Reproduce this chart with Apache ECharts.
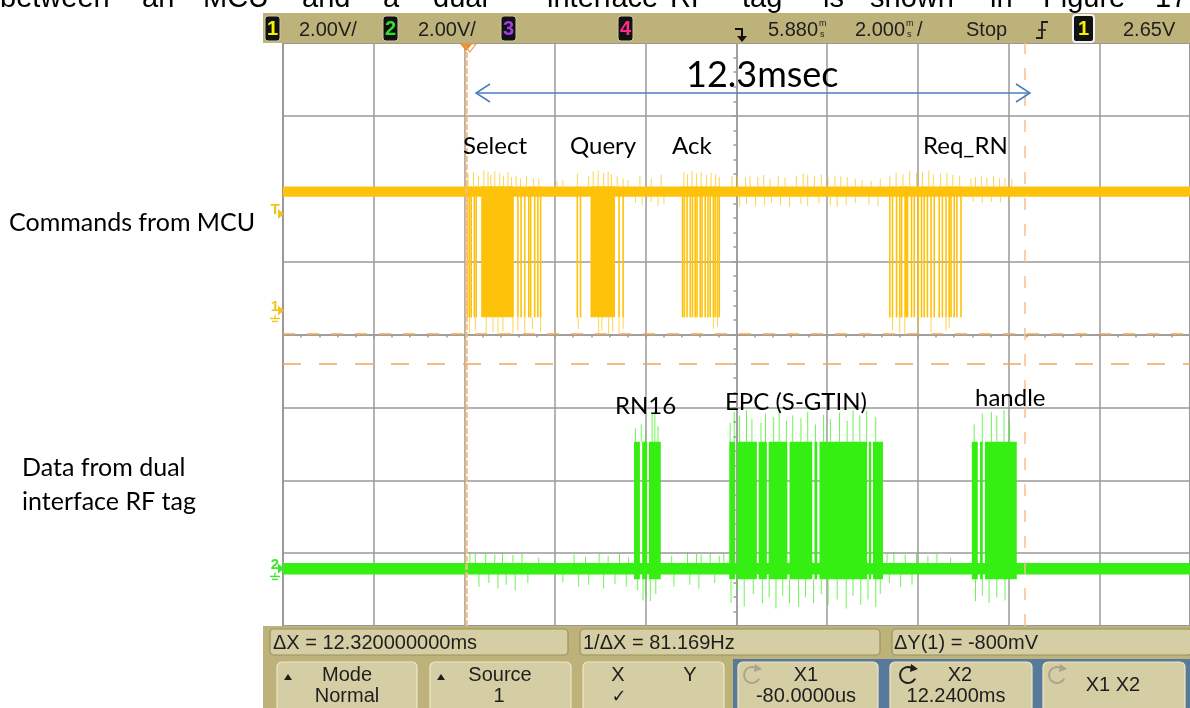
<!DOCTYPE html>
<html>
<head>
<meta charset="utf-8">
<script src="https://cdn.jsdelivr.net/npm/echarts@6/dist/echarts.min.js"></script>
<style>
html, body { margin: 0; padding: 0; background: #ffffff; }
#chart { width: 1190px; height: 708px; }
</style>
</head>
<body>
<div id="chart"></div>
<script>
// ---- Acquisition settings -------------------------------------------------
// time in ms relative to the trigger, amplitude in volts
const timeWindow = [-4.12, 15.88];         // 2.000 ms/div, delay 5.880 ms
const ch1Range = [-8.66, 7.34];            // 2.00 V/div, channel 1 offset
const ch2Range = [-1.58, 14.42];           // 2.00 V/div, channel 2 offset
const triggerLevel = 2.65;
const cursorX = [-0.08, 12.24];            // X1, X2
const cursorY = [-0.65, -1.45];            // Y1, Y2 on channel 1

// ---- Channel 1: commands from MCU ----------------------------------------
const ch1IdleBand = [3.12, 3.40];
const ch1LowLevel = -0.19;
const ch1Bursts = [[0.25, 0.97], [2.66, 3.20], [9.58, 9.67]];
const ch1Edges = [
  -0.05, -0.01, 0.03, 0.10, 0.14, 1.06, 1.13, 1.21, 1.30, 1.34, 1.43, 1.50, 1.56,
  2.37, 2.44, 3.29, 3.38,
  4.69, 4.73, 4.79, 4.86, 4.91, 4.97, 5.01, 5.08, 5.12, 5.19, 5.25, 5.30, 5.37, 5.41, 5.46, 5.50,
  9.26, 9.32, 9.41, 9.48, 9.52, 9.74, 9.80, 9.89, 9.96, 10.02, 10.09, 10.17, 10.24, 10.35,
  10.42, 10.50, 10.57, 10.61, 10.68, 10.74, 10.83
];
const ch1Undershoot = [
  [-0.01, -0.62], [0.12, -0.55], [0.36, -0.66], [0.51, -0.60], [0.62, -0.66], [0.73, -0.58],
  [0.95, -0.64], [1.06, -0.55], [1.21, -0.66], [1.38, -0.50], [1.56, -0.60],
  [2.39, -0.50], [2.84, -0.62], [2.91, -0.55], [3.06, -0.66], [3.15, -0.58], [3.29, -0.62], [3.38, -0.50],
  [5.37, -0.50], [5.46, -0.45],
  [9.32, -0.55], [9.48, -0.62], [9.59, -0.66], [9.89, -0.55], [10.17, -0.60], [10.50, -0.55], [10.57, -0.48]
];
const ch1Overshoot = [
  [-0.04, 3.75], [0.08, 3.80], [0.19, 3.70], [0.31, 3.84], [0.40, 3.80], [0.46, 3.72], [0.55, 3.82],
  [0.66, 3.78], [0.74, 3.70], [0.84, 3.80], [0.92, 3.66], [1.02, 3.70], [1.12, 3.62], [1.25, 3.68],
  [1.40, 3.62], [1.52, 3.60], [1.92, 3.55], [2.05, 3.58],
  [2.37, 3.76], [2.62, 3.70], [2.72, 3.82], [2.83, 3.84], [2.95, 3.78], [3.05, 3.80], [3.12, 3.74],
  [3.25, 3.70], [3.38, 3.62], [3.49, 3.58], [3.75, 3.70], [4.00, 3.62], [4.22, 3.72],
  [4.72, 3.80], [4.80, 3.74], [4.90, 3.82], [5.00, 3.76], [5.10, 3.80], [5.22, 3.72], [5.32, 3.78],
  [5.42, 3.74], [5.50, 3.66], [5.78, 3.68], [5.90, 3.72], [6.08, 3.65], [6.18, 3.70], [6.35, 3.66],
  [6.48, 3.72], [6.62, 3.60], [6.80, 3.68], [6.95, 3.64], [7.20, 3.70], [7.35, 3.75], [7.45, 3.72],
  [7.60, 3.70], [7.75, 3.74], [7.90, 3.66], [8.05, 3.70], [8.18, 3.68], [8.32, 3.66], [8.50, 3.62],
  [8.65, 3.58], [8.85, 3.56], [9.05, 3.62],
  [9.26, 3.70], [9.40, 3.78], [9.55, 3.74], [9.70, 3.82], [9.85, 3.78], [9.98, 3.80], [10.12, 3.84],
  [10.22, 3.74], [10.38, 3.76], [10.52, 3.78], [10.65, 3.72], [10.80, 3.70],
  [11.05, 3.62], [11.15, 3.66], [11.28, 3.70], [11.40, 3.64], [11.55, 3.68], [11.68, 3.62],
  [11.80, 3.64], [11.95, 3.60]
];
const ch1Dips = [
  [3.65, 2.95], [3.80, 2.90], [4.00, 2.98], [4.15, 2.88], [4.28, 2.92],
  [5.95, 2.85], [6.10, 2.92], [6.30, 2.86], [6.50, 2.88], [6.65, 2.95], [6.85, 2.88], [7.05, 2.84],
  [7.30, 2.92], [7.45, 2.86], [7.70, 2.94], [7.95, 2.88], [8.10, 2.84], [8.30, 2.90], [8.50, 2.95],
  [8.80, 2.90], [9.00, 2.86],
  [11.10, 3.00], [11.30, 2.95], [11.50, 2.98], [11.70, 2.96], [11.90, 2.98]
];

// ---- Channel 2: data from the dual interface RF tag -----------------------
const ch2IdleBand = [-0.17, 0.15];
const ch2HighLevel = 3.48;
const ch2BurstLow = -0.30;
const ch2Bursts = [
  [3.62, 3.75], [3.80, 3.91], [3.95, 4.21],
  [5.72, 5.85], [5.90, 6.33], [6.37, 6.55], [6.59, 7.00], [7.05, 7.55], [7.60, 7.66],
  [7.71, 8.76], [8.80, 8.85], [8.89, 9.11],
  [11.07, 11.20], [11.25, 11.31], [11.36, 12.06]
];
const ch2Overshoot = [
  [3.65, 3.85], [3.78, 3.95], [3.88, 3.80], [4.02, 4.25], [4.08, 4.30], [4.15, 3.90],
  [5.74, 4.00], [5.83, 4.30], [5.95, 4.20], [6.10, 4.34], [6.22, 4.10], [6.42, 4.00], [6.52, 4.25],
  [6.70, 4.15], [6.82, 4.30], [6.98, 4.05], [7.12, 4.20], [7.30, 4.12], [7.45, 4.30], [7.62, 3.95],
  [7.80, 4.22], [7.95, 4.10], [8.15, 4.28], [8.32, 4.05], [8.45, 4.34], [8.60, 4.20], [8.75, 4.32],
  [8.95, 4.15],
  [11.12, 3.95], [11.30, 4.25], [11.50, 4.30], [11.62, 4.20], [11.78, 4.34], [11.90, 4.05]
];
const ch2Undershoot = [
  [3.70, -0.60], [3.82, -0.88], [3.88, -0.75], [3.98, -0.90], [4.10, -0.70],
  [5.76, -0.95], [5.88, -0.60], [6.05, -1.05], [6.25, -0.70], [6.45, -0.95], [6.60, -0.80],
  [6.75, -1.10], [6.90, -0.75], [7.05, -0.95], [7.25, -1.05], [7.40, -0.80], [7.58, -0.95],
  [7.75, -0.70], [7.90, -1.00], [8.10, -0.85], [8.30, -1.10], [8.45, -0.75], [8.62, -1.00],
  [8.78, -0.85], [8.95, -1.05], [9.05, -0.70],
  [11.15, -0.90], [11.30, -0.75], [11.45, -0.95], [11.62, -0.80], [11.80, -0.88]
];
const ch2Noise = [
  [0.00, 0.45], [0.12, 0.40], [0.35, 0.42], [0.55, 0.38], [0.72, 0.44], [0.95, 0.36], [1.15, 0.40],
  [1.52, 0.30], [2.30, 0.38], [2.55, 0.32], [2.85, 0.40], [3.05, 0.35], [3.30, 0.42], [3.50, 0.30],
  [0.20, -0.50], [0.42, -0.40], [0.62, -0.55], [0.80, -0.45], [1.00, -0.60], [1.28, -0.40],
  [2.05, -0.38], [2.40, -0.50], [2.62, -0.45], [2.95, -0.55], [3.20, -0.42], [3.45, -0.50],
  [4.45, 0.35], [4.80, 0.45], [5.00, 0.40], [5.10, 0.38], [5.30, 0.42], [5.50, 0.35], [5.60, 0.42],
  [4.50, -0.50], [4.85, -0.45], [5.05, -0.55], [5.40, -0.40],
  [9.20, 0.40], [9.35, 0.45], [9.60, 0.38], [9.85, 0.42], [10.10, 0.35], [10.30, 0.40], [10.60, 0.30],
  [9.25, -0.40], [9.50, -0.50], [9.75, -0.45]
];

// ---- On-screen text --------------------------------------------------------
const headerWords = [
  ['between', 0], ['an', 142], ['MCU', 203], ['and', 302], ['a', 383], ['dual', 433],
  ['interface', 547], ['RF', 670], ['tag', 742], ['is', 823], ['shown', 870], ['in', 990],
  ['Figure', 1043], ['17', 1155]
];
const commandLabels = [['Select', 463, 146], ['Query', 570, 146], ['Ack', 672, 146], ['Req_RN', 923, 146]];
const replyLabels = [['RN16', 615, 406], ['EPC (S-GTIN)', 725, 402], ['handle', 975, 398]];
const measurements = ['ΔX = 12.320000000ms', '1/ΔX = 81.169Hz', 'ΔY(1) = -800mV'];

// ---- Trace items: [t0, t1, vLow, vHigh, kind] -----------------------------
// kind 0 = solid block, 1 = bit edge, 2 = thin ringing spike
function blocks(list, lo, hi) { return list.map(([a, b]) => [a, b, lo, hi, 0]); }
function edges(list, lo, hi) { return list.map(t => [t, t, lo, hi, 1]); }
function spikes(list, base) { return list.map(([t, v]) => [t, t, Math.min(base, v), Math.max(base, v), 2]); }

const ch1Items = [].concat(
  blocks([timeWindow], ch1IdleBand[0], ch1IdleBand[1]),
  blocks(ch1Bursts, ch1LowLevel, ch1IdleBand[1]),
  edges(ch1Edges, ch1LowLevel, ch1IdleBand[1]),
  spikes(ch1Undershoot, ch1LowLevel),
  spikes(ch1Overshoot, ch1IdleBand[1]),
  spikes(ch1Dips, ch1IdleBand[0])
);
const ch2Items = [].concat(
  blocks([timeWindow], ch2IdleBand[0], ch2IdleBand[1]),
  blocks(ch2Bursts, ch2BurstLow, ch2HighLevel),
  spikes(ch2Overshoot, ch2HighLevel),
  spikes(ch2Undershoot, ch2BurstLow),
  spikes(ch2Noise, 0)
);

function traceRenderer(color) {
  return function (params, api) {
    const a = api.coord([api.value(0), api.value(3)]);
    const b = api.coord([api.value(1), api.value(2)]);
    const kind = api.value(4);
    const minW = kind === 1 ? 1.6 : 1;
    let x = a[0];
    let w = b[0] - a[0];
    if (w < minW) { x -= (minW - w) / 2; w = minW; }
    return {
      type: 'rect',
      shape: { x: x, y: a[1], width: w, height: b[1] - a[1] },
      style: { fill: color, opacity: kind === 2 ? 0.72 : 1 }
    };
  };
}

const YELLOW = '#ffc20a';
const GREEN = '#35ef12';
const CURSOR = '#f2a555';
const GRIDC = '#9a9a9a';
const UI = '"Liberation Sans", Arial, sans-serif';
const NOTE = 'Lato, "Noto Sans", sans-serif';

const option = {
  animation: false,
  backgroundColor: '#ffffff',
  grid: { left: 283, top: 43, right: -8, bottom: 82, show: true, borderColor: '#767676', borderWidth: 1.5 },
  xAxis: [
    {
      type: 'value', min: -5, max: 5, interval: 1,
      axisLine: { show: true, onZero: true, onZeroAxisIndex: 0, lineStyle: { color: GRIDC, width: 1.5 } },
      axisTick: { show: true, length: 4, lineStyle: { color: GRIDC, width: 1.5 } },
      minorTick: { show: true, splitNumber: 5, length: 3, lineStyle: { color: GRIDC, width: 1.5 } },
      axisLabel: { show: false },
      splitLine: { show: true, lineStyle: { color: GRIDC, width: 1.5 } }
    },
    { type: 'value', min: timeWindow[0], max: timeWindow[1], show: false }
  ],
  yAxis: [
    {
      type: 'value', min: -4, max: 4, interval: 1,
      axisLine: { show: true, onZero: true, onZeroAxisIndex: 0, lineStyle: { color: GRIDC, width: 1.5 } },
      axisTick: { show: true, length: 4, lineStyle: { color: GRIDC, width: 1.5 } },
      minorTick: { show: true, splitNumber: 5, length: 3, lineStyle: { color: GRIDC, width: 1.5 } },
      axisLabel: { show: false },
      splitLine: { show: true, lineStyle: { color: GRIDC, width: 1.5 } }
    },
    { type: 'value', min: ch1Range[0], max: ch1Range[1], show: false },
    { type: 'value', min: ch2Range[0], max: ch2Range[1], show: false }
  ],
  series: [
    {
      name: 'cursors', type: 'line', xAxisIndex: 1, yAxisIndex: 1, data: [], z: 3,
      markLine: {
        silent: true, symbol: 'none', animation: false, label: { show: false },
        data: [
          { xAxis: cursorX[0], lineStyle: { color: '#f6bb80', width: 2.5, type: [6, 2] } },
          { xAxis: cursorX[1], lineStyle: { color: '#f6c08e', width: 1.5, type: [12, 14] } },
          { yAxis: cursorY[0], lineStyle: { color: CURSOR, width: 1.5, type: [12, 12] } },
          { yAxis: cursorY[1], lineStyle: { color: CURSOR, width: 1.5, type: [18, 18] } }
        ]
      }
    },
    {
      name: 'Channel 1', type: 'custom', xAxisIndex: 1, yAxisIndex: 1, z: 4,
      renderItem: traceRenderer(YELLOW),
      encode: { x: [0, 1], y: [2, 3] },
      data: ch1Items
    },
    {
      name: 'Channel 2', type: 'custom', xAxisIndex: 1, yAxisIndex: 2, z: 4,
      renderItem: traceRenderer(GREEN),
      encode: { x: [0, 1], y: [2, 3] },
      data: ch2Items
    }
  ]
};

const chart = echarts.init(document.getElementById('chart'), null, { renderer: 'canvas' });
chart.setOption(option);

// ---- Overlay: scope status bars, channel markers, annotations -------------
function txt(text, x, y, font, fill, align) {
  return { type: 'text', z: 100, style: { text: text, x: x, y: y, font: font, fill: fill || '#000', textAlign: align || 'left', textVerticalAlign: 'middle' } };
}
function box(x, y, w, h, fill, stroke, r) {
  return { type: 'rect', z: 90, shape: { x: x, y: y, width: w, height: h, r: r || 0 }, style: { fill: fill, stroke: stroke || null, lineWidth: 1.2 } };
}
function badge(x, y, w, h, label, color, border) {
  return [
    { type: 'rect', z: 95, shape: { x: x, y: y, width: w, height: h, r: 3 }, style: { fill: '#111', stroke: border || '#cfc9a8', lineWidth: border ? 2 : 1 } },
    txt(label, x + w / 2, y + h / 2 + 1, 'bold 20px ' + UI, color, 'center')
  ];
}
function circArrow(cx, cy, color) {
  return [
    { type: 'arc', z: 100, shape: { cx: cx, cy: cy, r: 8, startAngle: Math.PI * 0.15, endAngle: Math.PI * 1.75 }, style: { stroke: color, fill: null, lineWidth: 2 } },
    { type: 'polygon', z: 100, shape: { points: [[cx + 3, cy - 11], [cx + 10, cy - 6], [cx + 2, cy - 3]] }, style: { fill: color } }
  ];
}

const BAR = '#bdb27a';
const BTN = '#d5cda3';
const els = [];

// header sentence (continues from above the figure)
headerWords.forEach(([w, x]) => els.push(txt(w, x, -1, '29px ' + UI, '#000')));

// top status bar
els.push(box(263, 13, 927, 30, BAR, null, 0));
els.push(...badge(265, 16, 15, 25, '1', '#f4f000'));
els.push(txt('2.00V/', 299, 30, '20px ' + UI, '#1e1e1e'));
els.push(...badge(383, 16, 15, 25, '2', '#2ee02e'));
els.push(txt('2.00V/', 418, 30, '20px ' + UI, '#1e1e1e'));
els.push(...badge(501, 16, 15, 25, '3', '#a23ee8'));
els.push(...badge(618, 16, 15, 25, '4', '#ff2a8a'));
// delay reference symbol
els.push({ type: 'polyline', z: 100, shape: { points: [[735, 29], [742, 29], [742, 38]] }, style: { stroke: '#111', lineWidth: 2, fill: null } });
els.push({ type: 'polygon', z: 100, shape: { points: [[737, 36], [747, 36], [742, 42]] }, style: { fill: '#111' } });
// time readouts with stacked "m/s" units
els.push(txt('5.880', 768, 30, '20px ' + UI, '#1e1e1e'));
els.push(txt('m', 819, 24, '9px ' + UI, '#1e1e1e'));
els.push(txt('s', 820, 35, '9px ' + UI, '#1e1e1e'));
els.push(txt('2.000', 855, 30, '20px ' + UI, '#1e1e1e'));
els.push(txt('m', 906, 24, '9px ' + UI, '#1e1e1e'));
els.push(txt('s', 907, 35, '9px ' + UI, '#1e1e1e'));
els.push(txt('/', 917, 30, '20px ' + UI, '#1e1e1e'));
els.push(txt('Stop', 966, 30, '20px ' + UI, '#1e1e1e'));
els.push({ type: 'polyline', z: 100, shape: { points: [[1036, 38], [1042, 38], [1042, 22], [1048, 22]] }, style: { stroke: '#1e1e1e', lineWidth: 1.8, fill: null } });
els.push({ type: 'line', z: 100, shape: { x1: 1038, y1: 30, x2: 1046, y2: 30 }, style: { stroke: '#1e1e1e', lineWidth: 1.5 } });
els.push(...badge(1073, 15, 21, 27, '1', '#f4f000', '#f2f2f2'));
els.push(txt('2.65V', 1123, 30, '20px ' + UI, '#1e1e1e'));

// cursor and delay markers at the top of the graticule
const x1px = chart.convertToPixel({ xAxisIndex: 1 }, cursorX[0]);
const t0px = chart.convertToPixel({ xAxisIndex: 1 }, 0);
els.push({ type: 'polygon', z: 100, shape: { points: [[x1px - 6, 44], [x1px + 6, 44], [x1px, 51]] }, style: { fill: '#f08a1c' } });
els.push({ type: 'polygon', z: 100, shape: { points: [[t0px - 6, 44], [t0px + 6, 44], [t0px, 52]] }, style: { fill: null, stroke: '#f0a050', lineWidth: 1.2 } });

// channel markers on the left edge
const trigY = chart.convertToPixel({ yAxisIndex: 1 }, triggerLevel);
const gnd1Y = chart.convertToPixel({ yAxisIndex: 1 }, 0);
const gnd2Y = chart.convertToPixel({ yAxisIndex: 2 }, 0);
function levelMark(label, y, color, ground) {
  const out = [
    txt(label, 275, y - 4, 'bold 15px ' + UI, color, 'center'),
    { type: 'polygon', z: 100, shape: { points: [[278, y - 5], [284, y], [278, y + 5]] }, style: { fill: color } }
  ];
  if (ground) {
    out.push({ type: 'line', z: 100, shape: { x1: 275, y1: y + 4, x2: 275, y2: y + 8 }, style: { stroke: color, lineWidth: 1.2 } });
    out.push({ type: 'line', z: 100, shape: { x1: 270, y1: y + 8, x2: 280, y2: y + 8 }, style: { stroke: color, lineWidth: 1.4 } });
    out.push({ type: 'line', z: 100, shape: { x1: 272, y1: y + 11, x2: 278, y2: y + 11 }, style: { stroke: color, lineWidth: 1.4 } });
  }
  return out;
}
els.push(...levelMark('T', trigY, '#f3c21b', false));
els.push(...levelMark('1', gnd1Y, '#f3c21b', true));
els.push(...levelMark('2', gnd2Y, '#3ce82a', true));

// 12.3 msec span arrow
const arrowY = 93;
els.push({ type: 'line', z: 100, shape: { x1: 476, y1: arrowY, x2: 1030, y2: arrowY }, style: { stroke: '#4a7ebb', lineWidth: 1.5 } });
els.push({ type: 'polyline', z: 100, shape: { points: [[490, arrowY - 9], [476, arrowY], [490, arrowY + 9]] }, style: { stroke: '#4a7ebb', lineWidth: 1.5, fill: null } });
els.push({ type: 'polyline', z: 100, shape: { points: [[1016, arrowY - 9], [1030, arrowY], [1016, arrowY + 9]] }, style: { stroke: '#4a7ebb', lineWidth: 1.5, fill: null } });
els.push(txt('12.3msec', 686, 75, '36px ' + NOTE, '#000'));

// packet labels
commandLabels.forEach(([t, x, y]) => els.push(txt(t, x, y, '24px ' + NOTE, '#000')));
replyLabels.forEach(([t, x, y]) => els.push(txt(t, x, y, '24px ' + NOTE, '#000')));

// trace captions
els.push(txt('Commands from MCU', 9, 223, '25px ' + NOTE, '#000'));
els.push(txt('Data from dual', 22, 468, '25px ' + NOTE, '#000'));
els.push(txt('interface RF tag', 22, 502, '25px ' + NOTE, '#000'));

// bottom measurement / softkey bar
els.push(box(263, 626, 927, 82, BAR, null, 0));
els.push(box(270, 629, 298, 26, BTN, '#9a915f', 4));
els.push(box(580, 629, 300, 26, BTN, '#9a915f', 4));
els.push(box(892, 629, 300, 26, BTN, '#9a915f', 4));
els.push(txt(measurements[0], 273, 643, '20px ' + UI, '#1e1e1e'));
els.push(txt(measurements[1], 583, 643, '20px ' + UI, '#1e1e1e'));
els.push(txt(measurements[2], 894, 643, '20px ' + UI, '#1e1e1e'));

els.push(box(733, 659, 460, 52, '#56799c', null, 0));
[[277, 140], [430, 141], [583, 141], [738, 140], [890, 142], [1043, 142]].forEach(([x, w]) => {
  els.push(box(x, 662, w, 50, BTN, '#efe8c6', 5));
});
const tri = (x, y) => ({ type: 'polygon', z: 100, shape: { points: [[x - 4, y + 3], [x + 4, y + 3], [x, y - 3]] }, style: { fill: '#1e1e1e' } });
els.push(tri(288, 677));
els.push(txt('Mode', 347, 675, '20px ' + UI, '#1e1e1e', 'center'));
els.push(txt('Normal', 347, 696, '20px ' + UI, '#1e1e1e', 'center'));
els.push(tri(441, 677));
els.push(txt('Source', 500, 675, '20px ' + UI, '#1e1e1e', 'center'));
els.push(txt('1', 499, 696, '20px ' + UI, '#1e1e1e', 'center'));
els.push(txt('X', 618, 675, '20px ' + UI, '#1e1e1e', 'center'));
els.push(txt('Y', 690, 675, '20px ' + UI, '#1e1e1e', 'center'));
els.push(txt('✓', 619, 697, '18px "DejaVu Sans", sans-serif', '#1e1e1e', 'center'));
els.push(...circArrow(752, 675, '#a8a48e'));
els.push(txt('X1', 806, 675, '20px ' + UI, '#1e1e1e', 'center'));
els.push(txt('-80.0000us', 806, 696, '20px ' + UI, '#1e1e1e', 'center'));
els.push(...circArrow(908, 675, '#1e1e1e'));
els.push(txt('X2', 960, 675, '20px ' + UI, '#1e1e1e', 'center'));
els.push(txt('12.2400ms', 956, 696, '20px ' + UI, '#1e1e1e', 'center'));
els.push(...circArrow(1057, 675, '#a8a48e'));
els.push(txt('X1 X2', 1113, 685, '20px ' + UI, '#1e1e1e', 'center'));

chart.setOption({ graphic: { elements: els } });
</script>
</body>
</html>
